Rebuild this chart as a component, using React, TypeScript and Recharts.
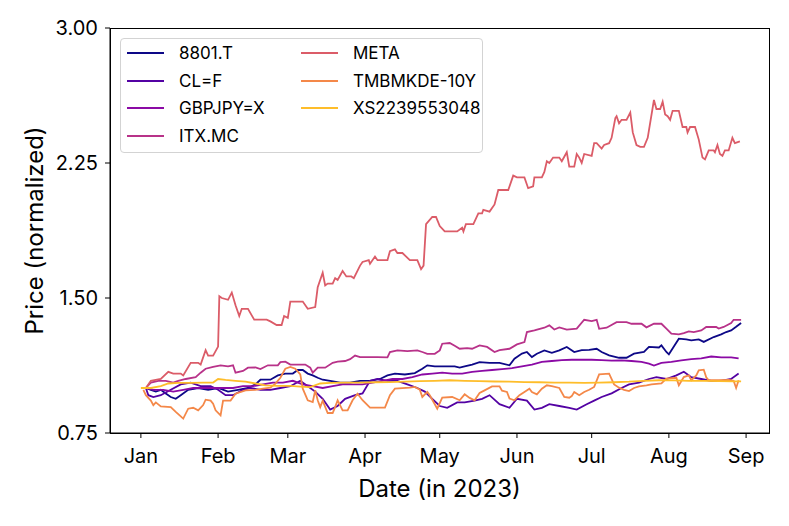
import { Line, LineChart, XAxis, YAxis } from "recharts";

// x values are days since 1 Jan 2023
const monthTicks = [0, 31, 59, 90, 120, 151, 181, 212, 243];
const monthLabels = ["Jan", "Feb", "Mar", "Apr", "May", "Jun", "Jul", "Aug", "Sep"];
const priceTicks = [0.75, 1.5, 2.25, 3.0];

const mitsuiFudosan: [number, number][] = [
  [2, 1.0], [4, 0.99], [6, 0.98], [8, 0.99], [10, 0.97], [12, 0.95], [14, 0.94], [16, 0.96],
  [19, 0.99], [23, 1.0], [27, 0.99], [31, 1.0], [35, 0.98], [39, 0.99], [43, 1.0], [46, 1.02],
  [48, 1.046], [52, 1.046], [55, 1.07], [58, 1.08], [61, 1.08], [63, 1.1], [65, 1.1], [67, 1.08],
  [69, 1.07], [71, 1.057], [73, 1.046], [76, 1.04], [80, 1.03], [84, 1.03], [88, 1.04], [92, 1.04],
  [96, 1.05], [99, 1.07], [102, 1.08], [106, 1.075], [110, 1.083], [113, 1.107], [115, 1.126],
  [118, 1.12], [122, 1.12], [126, 1.12], [128, 1.113], [130, 1.12], [133, 1.13], [136, 1.144],
  [140, 1.14], [144, 1.14], [148, 1.126], [150, 1.163], [153, 1.191], [155, 1.2], [157, 1.172],
  [159, 1.19], [162, 1.209], [165, 1.195], [168, 1.209], [171, 1.228], [174, 1.2], [177, 1.21],
  [180, 1.212], [183, 1.218], [185, 1.2], [188, 1.181], [192, 1.168], [195, 1.168], [198, 1.191],
  [202, 1.2], [204, 1.228], [208, 1.225], [209, 1.237], [211, 1.2], [212, 1.187], [214, 1.23],
  [216, 1.274], [219, 1.27], [221, 1.265], [224, 1.27], [226, 1.256], [230, 1.283], [233, 1.298],
  [235, 1.311], [237, 1.32], [239, 1.34], [241, 1.361],
];

const crudeOil: [number, number][] = [
  [2, 1.0], [3, 0.96], [5, 0.95], [8, 0.96], [12, 0.99], [16, 1.02], [20, 1.03], [24, 1.01],
  [28, 1.01], [31, 0.99], [34, 0.96], [37, 0.96], [41, 0.99], [44, 1.0], [48, 0.99], [52, 0.99],
  [56, 1.0], [60, 1.01], [64, 1.04], [67, 1.01], [70, 0.98], [73, 0.94], [76, 0.88], [79, 0.9],
  [82, 0.94], [86, 0.96], [89, 0.97], [92, 1.04], [95, 1.05], [99, 1.04], [103, 1.04], [107, 1.02],
  [111, 1.0], [114, 0.98], [117, 0.94], [120, 0.9], [123, 0.89], [127, 0.92], [130, 0.92],
  [134, 0.93], [137, 0.94], [140, 0.96], [144, 0.91], [148, 0.89], [151, 0.94], [155, 0.93],
  [158, 0.88], [161, 0.89], [164, 0.91], [168, 0.9], [172, 0.89], [175, 0.88], [179, 0.91],
  [182, 0.93], [185, 0.95], [189, 0.97], [193, 1.0], [196, 1.02], [200, 1.03], [204, 1.05],
  [207, 1.06], [211, 1.05], [215, 1.07], [218, 1.09], [221, 1.06], [225, 1.05], [229, 1.04],
  [233, 1.04], [237, 1.05], [240, 1.08],
];

const gbpJpy: [number, number][] = [
  [2, 1.0], [5, 0.99], [9, 0.99], [13, 0.98], [17, 0.99], [21, 1.0], [25, 1.0], [29, 1.0],
  [33, 1.0], [37, 1.0], [41, 1.01], [45, 1.01], [49, 1.02], [53, 1.03], [57, 1.03], [61, 1.04],
  [65, 1.02], [69, 1.01], [73, 1.0], [77, 1.01], [81, 1.02], [85, 1.02], [89, 1.02], [93, 1.03],
  [97, 1.04], [101, 1.05], [105, 1.05], [109, 1.06], [113, 1.075], [117, 1.08], [121, 1.085],
  [125, 1.08], [129, 1.08], [133, 1.09], [137, 1.095], [141, 1.1], [145, 1.105], [149, 1.11],
  [153, 1.12], [157, 1.13], [161, 1.145], [165, 1.15], [169, 1.155], [173, 1.157], [177, 1.158],
  [181, 1.157], [185, 1.155], [189, 1.152], [193, 1.153], [197, 1.15], [201, 1.145], [204, 1.135],
  [206, 1.125], [209, 1.14], [213, 1.145], [217, 1.153], [221, 1.16], [225, 1.165], [229, 1.175],
  [233, 1.17], [237, 1.17], [240, 1.165],
];

const inditex: [number, number][] = [
  [2, 1.0], [4, 1.03], [7, 1.04], [10, 1.04], [13, 1.03], [15, 1.04], [18, 1.05], [22, 1.06],
  [24, 1.085], [26, 1.107], [29, 1.118], [32, 1.126], [35, 1.12], [37, 1.126], [38, 1.085],
  [41, 1.095], [43, 1.113], [46, 1.115], [48, 1.105], [51, 1.126], [55, 1.126], [56, 1.144],
  [58, 1.146], [60, 1.13], [63, 1.13], [66, 1.13], [68, 1.113], [69, 1.085], [71, 1.113],
  [74, 1.113], [77, 1.14], [79, 1.146], [82, 1.15], [84, 1.16], [86, 1.18], [88, 1.172],
  [91, 1.172], [95, 1.172], [99, 1.17], [100, 1.2], [103, 1.209], [107, 1.205], [111, 1.209],
  [113, 1.2], [115, 1.19], [118, 1.19], [120, 1.209], [121, 1.246], [124, 1.25], [126, 1.235],
  [128, 1.218], [131, 1.222], [133, 1.218], [136, 1.237], [139, 1.228], [142, 1.2], [144, 1.21],
  [148, 1.218], [151, 1.242], [154, 1.255], [155, 1.311], [158, 1.32], [162, 1.335], [164, 1.348],
  [166, 1.325], [168, 1.337], [171, 1.324], [175, 1.33], [178, 1.379], [181, 1.372], [183, 1.379],
  [184, 1.329], [187, 1.335], [191, 1.366], [195, 1.366], [197, 1.357], [201, 1.357], [203, 1.337],
  [206, 1.357], [209, 1.357], [211, 1.33], [213, 1.302], [216, 1.298], [218, 1.305], [220, 1.315],
  [222, 1.311], [225, 1.32], [227, 1.339], [231, 1.339], [232, 1.33], [234, 1.339], [237, 1.361],
  [238, 1.379], [241, 1.379],
];

const meta: [number, number][] = [
  [2, 1.0], [4, 1.04], [8, 1.05], [11, 1.09], [13, 1.08], [16, 1.08], [17, 1.07], [20, 1.14],
  [23, 1.14], [24, 1.13], [26, 1.21], [27, 1.18], [29, 1.18], [31, 1.23], [31.5, 1.51], [32.5, 1.5],
  [35, 1.49], [36.5, 1.53], [38, 1.46], [39.5, 1.4], [40.5, 1.44], [43, 1.44], [45.5, 1.38],
  [48, 1.38], [50.5, 1.38], [52, 1.37], [54.5, 1.35], [56.5, 1.35], [57.5, 1.4], [59, 1.39],
  [60, 1.48], [65, 1.48], [67, 1.44], [70, 1.45], [71, 1.56], [73, 1.64], [74, 1.57], [75, 1.58],
  [77, 1.58], [78, 1.61], [79, 1.6], [81, 1.65], [82.5, 1.62], [84.5, 1.62], [85.5, 1.61],
  [88, 1.68], [89, 1.7], [91.5, 1.71], [92, 1.69], [94, 1.73], [95, 1.71], [99, 1.71], [100, 1.76],
  [102, 1.77], [103, 1.75], [105, 1.75], [108, 1.71], [111, 1.71], [112.5, 1.66], [113.5, 1.68],
  [114.5, 1.91], [117, 1.95], [118.5, 1.95], [120, 1.9], [122, 1.87], [127, 1.87], [129, 1.89],
  [129.5, 1.87], [130.5, 1.91], [133.5, 1.91], [135.5, 1.97], [137, 1.97], [137.5, 1.99],
  [140, 1.98], [142, 2.02], [143.5, 2.1], [147.5, 2.1], [149.5, 2.18], [151, 2.17], [154, 2.17],
  [155.5, 2.11], [157.5, 2.12], [158, 2.17], [161, 2.17], [162, 2.2], [163, 2.26], [164, 2.25],
  [165.5, 2.28], [168, 2.28], [169, 2.26], [171, 2.31], [172, 2.23], [174, 2.23], [175, 2.3],
  [176, 2.28], [177, 2.25], [178, 2.3], [181, 2.29], [182, 2.36], [183, 2.36], [185, 2.33],
  [186, 2.35], [188, 2.36], [189, 2.39], [190.5, 2.5], [191, 2.51], [192, 2.47], [193, 2.49],
  [195, 2.49], [196.5, 2.53], [197.5, 2.42], [199, 2.35], [200.5, 2.34], [202, 2.34], [203.5, 2.39],
  [206, 2.6], [207, 2.55], [208.5, 2.55], [209.5, 2.59], [210.5, 2.52], [211.5, 2.51], [212.5, 2.49],
  [213.5, 2.54], [216, 2.54], [217.5, 2.45], [219, 2.45], [219.5, 2.42], [220.5, 2.45], [222.5, 2.45],
  [224, 2.38], [225.5, 2.28], [226.5, 2.27], [228, 2.32], [230, 2.32], [230.5, 2.31], [231.5, 2.35],
  [232.5, 2.3], [233.5, 2.29], [234.5, 2.32], [236, 2.32], [237.5, 2.39], [238.5, 2.36], [240.5, 2.37],
];

const tmbmkde10y: [number, number][] = [
  [1, 0.99], [2, 0.96], [4, 0.93], [5, 0.905], [6, 0.92], [8, 0.898], [12, 0.894], [14, 0.867],
  [17, 0.83], [19, 0.885], [21, 0.89], [23, 0.876], [25, 0.905], [26, 0.935], [28, 0.93],
  [29, 0.913], [30, 0.876], [32, 0.848], [33, 0.93], [36, 0.93], [38, 0.968], [42, 0.987],
  [46, 0.99], [49, 0.996], [52, 1.002], [54, 1.024], [56, 1.057], [58, 1.107], [60, 1.117],
  [62, 1.107], [64, 1.076], [65, 0.996], [67, 0.932], [69, 0.922], [70, 0.987], [71, 0.932],
  [72, 0.894], [73, 0.93], [75, 0.861], [77, 0.861], [78, 0.894], [79, 0.932], [81, 0.876],
  [83, 0.876], [85, 0.932], [87, 0.968], [89, 0.932], [92, 0.891], [98, 0.891], [100, 0.96],
  [102, 0.996], [108, 1.002], [110, 1.006], [112, 0.991], [113, 0.95], [115, 0.978], [116, 0.96],
  [119, 0.885], [121, 0.946], [125, 0.95], [128, 0.932], [130, 0.965], [132, 0.945], [134, 0.932],
  [136, 0.972], [138, 0.987], [141, 1.009], [144, 1.009], [145, 0.985], [147, 0.978], [148, 0.941],
  [150, 0.932], [152, 0.96], [154, 0.978], [156, 0.996], [157, 0.978], [159, 0.965], [161, 0.996],
  [163, 1.015], [165, 1.01], [168, 1.0], [170, 0.95], [172, 0.946], [173, 0.955], [174, 0.978],
  [176, 0.96], [178, 0.978], [180, 0.99], [182, 1.006], [184, 1.076], [188, 1.08], [190, 1.02],
  [192, 1.002], [194, 0.99], [196, 0.983], [198, 1.0], [200, 1.009], [203, 1.015], [205, 1.02],
  [209, 1.025], [211, 1.052], [215, 1.057], [216, 1.015], [218, 1.061], [220, 1.07], [221, 1.043],
  [223, 1.07], [224, 1.098], [226, 1.102], [227, 1.06], [228, 1.043], [232, 1.043], [236, 1.045],
  [238, 1.04], [239, 1.0], [240, 1.043],
];

const xsBond: [number, number][] = [
  [0, 1.0], [4, 1.0], [8, 1.01], [11, 1.025], [15, 1.028], [20, 1.028], [25, 1.03], [29, 1.03],
  [31, 1.05], [34, 1.045], [38, 1.04], [42, 1.035], [46, 1.025], [50, 1.015], [55, 1.012],
  [60, 1.012], [64, 1.008], [68, 1.005], [72, 1.025], [76, 1.028], [82, 1.03], [88, 1.03],
  [94, 1.032], [100, 1.033], [106, 1.035], [112, 1.038], [118, 1.04], [124, 1.043], [130, 1.04],
  [136, 1.038], [142, 1.036], [148, 1.035], [154, 1.033], [160, 1.032], [166, 1.03], [172, 1.03],
  [178, 1.028], [184, 1.03], [190, 1.032], [196, 1.035], [202, 1.04], [208, 1.043], [214, 1.042],
  [220, 1.04], [226, 1.04], [232, 1.038], [238, 1.037], [241, 1.037],
];

const series = [
  { name: "8801.T", color: "#0d0887", points: mitsuiFudosan },
  { name: "CL=F", color: "#5302a3", points: crudeOil },
  { name: "GBPJPY=X", color: "#8b0aa5", points: gbpJpy },
  { name: "ITX.MC", color: "#b83289", points: inditex },
  { name: "META", color: "#db5c68", points: meta },
  { name: "TMBMKDE-10Y", color: "#f48849", points: tmbmkde10y },
  { name: "XS2239553048", color: "#febd2a", points: xsBond },
];

const font = "Inter, 'DejaVu Sans', sans-serif";
const xDomain = [-12.4, 252.2];
const yDomain = [0.75, 3.0];

function LegendBox() {
  const rows = [14, 41.5, 69, 96.5];
  return (
    <div
      style={{
        position: "absolute",
        left: 120,
        top: 38,
        width: 363,
        height: 115,
        boxSizing: "border-box",
        border: "1px solid #d3d3d3",
        borderRadius: 4,
        background: "rgba(255,255,255,0.8)",
        fontFamily: font,
        fontSize: 17,
      }}
    >
      {series.map((s, i) => {
        const col = i < 4 ? 0 : 1;
        const row = i < 4 ? i : i - 4;
        const x0 = col === 0 ? 6 : 180;
        return (
          <div key={s.name}>
            <div
              style={{
                position: "absolute",
                left: x0,
                top: rows[row] - 1,
                width: 37,
                height: 2,
                background: s.color,
              }}
            />
            <div
              style={{
                position: "absolute",
                left: x0 + 52,
                top: rows[row] - 11,
                lineHeight: "22px",
                whiteSpace: "nowrap",
              }}
            >
              {s.name}
            </div>
          </div>
        );
      })}
    </div>
  );
}

export default function App() {
  const tickStyle = { fill: "#000", fontSize: 20, fontFamily: font };
  return (
    <div style={{ position: "absolute", left: 0, top: 0, width: 789, height: 526, background: "#fff" }}>
      <LineChart width={789} height={526} margin={{ top: 28, right: 20, bottom: 53, left: 0 }}>
        <XAxis
          type="number"
          dataKey="d"
          domain={xDomain}
          ticks={monthTicks}
          tickFormatter={(v) => monthLabels[monthTicks.indexOf(v)]}
          allowDataOverflow
          height={40}
          stroke="#000"
          tickSize={5}
          tickMargin={11}
          tick={tickStyle}
          label={{
            value: "Date (in 2023)",
            position: "bottom",
            offset: 7,
            style: { fill: "#000", fontSize: 24, fontFamily: font },
          }}
        />
        <YAxis
          type="number"
          domain={yDomain}
          ticks={priceTicks}
          tickFormatter={(v) => v.toFixed(2)}
          allowDataOverflow
          width={110}
          stroke="#000"
          tickSize={5}
          tickMargin={7}
          tick={tickStyle}
          label={{
            value: "Price (normalized)",
            angle: -90,
            position: "insideLeft",
            offset: 34,
            style: { fill: "#000", fontSize: 24, fontFamily: font, textAnchor: "middle" },
          }}
        />
        {series.map((s) => (
          <Line
            key={s.name}
            data={s.points.map(([d, v]) => ({ d, v }))}
            dataKey="v"
            name={s.name}
            type="linear"
            stroke={s.color}
            strokeWidth={1.8}
            dot={false}
            activeDot={false}
            isAnimationActive={false}
          />
        ))}
      </LineChart>
      {/* top and right spines of the axes box */}
      <div
        style={{
          position: "absolute",
          left: 110,
          top: 28,
          width: 660,
          height: 406,
          boxSizing: "border-box",
          border: "1px solid #000",
          pointerEvents: "none",
        }}
      />
      <LegendBox />
    </div>
  );
}
